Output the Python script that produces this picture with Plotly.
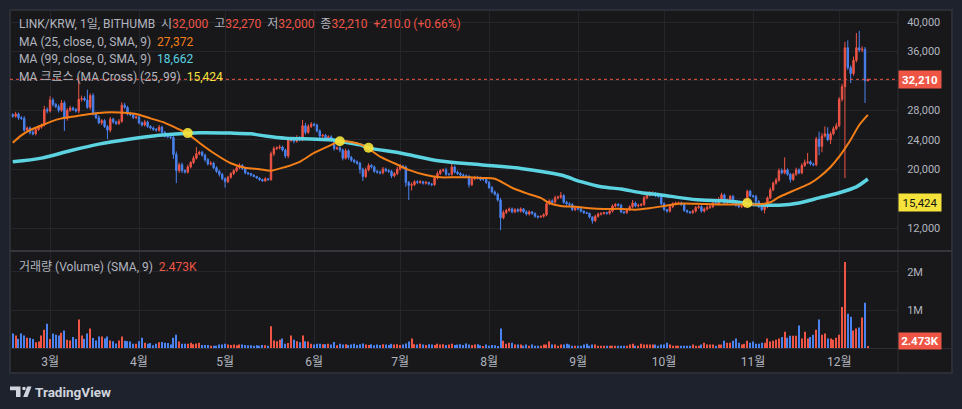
import plotly.graph_objects as go
import pandas as pd

# ---------------- data (prices in thousand KRW, volume in millions) ----------------
start_date = "2024-02-17"
first_open_k = 27.4

close_k = [
    27.2, 27.5, 27.0, 26.9, 25.3, 25.6, 25.0, 24.8, 25.4, 25.7,
    26.0, 28.1, 27.9, 29.4, 28.8, 28.5, 28.0, 29.0, 26.9, 28.0,
    28.3, 28.1, 27.9, 29.5, 29.6, 29.4, 28.4, 30.0, 27.6, 27.0,
    26.3, 26.6, 25.8, 25.3, 26.8, 26.4, 26.2, 26.5, 28.7, 28.4,
    27.5, 27.4, 27.0, 27.1, 26.3, 26.0, 26.4, 25.8, 25.6, 25.4,
    25.3, 25.7, 25.0, 24.5, 24.4, 24.3, 22.0, 19.8, 20.6, 19.8,
    19.6, 20.3, 20.9, 21.5, 22.1, 22.3, 21.9, 21.3, 20.7, 20.8,
    20.2, 19.7, 19.3, 18.7, 18.3, 18.9, 19.4, 19.8, 20.2, 20.5,
    20.1, 19.5, 19.4, 19.2, 19.0, 18.8, 18.6, 18.4, 18.7, 18.6,
    22.1, 22.8, 22.9, 23.0, 22.6, 21.8, 23.9, 24.2, 23.8, 24.3,
    24.0, 25.9, 25.0, 25.8, 26.1, 26.0, 25.2, 24.5, 24.6, 24.2,
    24.4, 23.9, 22.8, 22.9, 22.6, 21.5, 22.5, 21.6, 21.2, 21.0,
    20.8, 20.0, 19.0, 19.9, 20.5, 20.3, 19.7, 19.6, 19.5, 20.0,
    19.8, 19.7, 19.1, 19.4, 20.0, 20.4, 20.3, 18.2, 17.8, 17.9,
    18.3, 18.2, 18.3, 18.1, 18.2, 18.0, 17.9, 18.8, 19.4, 19.8,
    19.9, 19.3, 19.3, 20.3, 19.6, 19.4, 19.2, 19.1, 19.0, 17.9,
    18.7, 18.9, 18.8, 18.6, 18.6, 18.2, 17.5, 16.9, 16.6, 15.8,
    13.4, 14.1, 14.4, 14.6, 14.2, 14.5, 14.3, 14.6, 14.2, 13.9,
    14.2, 14.0, 13.6, 13.5, 13.6, 13.8, 15.3, 15.7, 15.5, 16.1,
    16.2, 16.4, 15.5, 15.3, 15.2, 14.5, 14.7, 14.6, 14.3, 14.1,
    14.0, 13.5, 13.0, 13.6, 13.9, 14.0, 14.1, 14.0, 14.3, 15.0,
    15.2, 15.1, 14.2, 14.1, 14.5, 14.9, 15.4, 15.0, 15.1, 15.2,
    16.1, 16.5, 16.6, 16.7, 16.4, 16.3, 15.3, 14.5, 14.3, 14.9,
    15.3, 15.4, 15.4, 15.2, 14.4, 14.2, 14.1, 14.3, 14.8, 14.9,
    14.3, 14.6, 14.8, 14.9, 15.4, 15.3, 15.9, 16.5, 15.4, 15.8,
    16.3, 15.4, 15.1, 14.9, 15.0, 15.8, 17.0, 16.4, 16.3, 15.6,
    14.9, 14.5, 14.9, 16.1, 17.2, 18.1, 18.5, 19.8, 19.5, 19.9,
    19.3, 18.6, 19.3, 19.9, 19.5, 20.5, 20.9, 21.0, 20.7, 20.6,
    24.1, 23.1, 24.5, 24.8, 24.0, 24.8, 25.5, 25.9, 29.5, 31.2,
    36.5, 33.8, 33.0, 34.8, 36.5, 36.2, 36.3, 32.0, 32.21,
]

upper_wick_k = [
    .2, .3, .2, .2, .3, .2, .2, .3, .2, .3,
    .2, .5, .3, .5, .3, .2, .3, .4, .3, .3,
    .3, .2, .2, 3.1, .4, .3, 1.4, .3, .3, .2,
    .3, .2, .2, .2, .3, .2, .2, .3, .4, .3,
    .2, .3, .2, .2, .2, .2, .3, .2, .2, .2,
    .2, .3, .2, .2, .2, .2, .2, .4, .3, .3,
    .2, .3, .2, .3, .9, .2, .2, .2, .2, .3,
    .2, .2, .2, .2, .2, .2, .2, .2, .2, .3,
    .2, .2, .1, .1, .1, .1, .1, .1, .2, .1,
    .3, .3, .2, .3, .2, .2, .3, .2, .2, .3,
    .2, .8, .4, .3, .3, .2, .2, .2, .2, .2,
    .2, .2, .2, .2, .2, .2, .3, .2, .2, .2,
    .2, .2, .2, .3, .3, .2, .2, .2, .2, .3,
    .2, .2, .2, .2, .3, .3, .2, .2, .2, .3,
    .2, .2, .2, .1, .2, .1, .1, .3, .3, .2,
    .2, .3, .2, .5, .2, .2, .2, .2, .2, .2,
    .2, .2, .2, .2, .2, .2, .2, .2, .2, .2,
    .3, .3, .2, .2, .2, .2, .2, .2, .1, .2,
    .2, .1, .1, .1, .1, .2, .3, .2, .2, .3,
    .2, .5, .2, .2, .2, .2, .2, .1, .1, .1,
    .1, .1, .1, .2, .2, .1, .1, .1, .2, .2,
    .2, .2, .2, .1, .2, .2, .4, .2, .2, .2,
    .3, .4, .4, .3, .2, .2, .2, .2, .1, .2,
    .2, .2, .2, .2, .2, .1, .1, .2, .2, .2,
    .2, .2, .3, .2, .3, .2, .3, .3, .2, .2,
    .2, .2, .2, .1, .2, .2, .2, .2, .1, .2,
    .2, .1, .2, .2, .3, .2, .3, .3, .3, 1.7,
    .2, .2, .2, .3, .2, .3, .4, 1.2, .2, .2,
    .3, 1.0, .4, 1.0, .9, .3, .3, .4, .3, .4,
    .8, 1.0, .3, .5, 2.0, 2.3, .4, .3, .06,
]

lower_wick_k = [
    .2, .2, .3, .2, .2, .2, .3, .2, .2, .2,
    .2, .2, .3, .2, .3, .2, .3, .2, 1.7, .3,
    .2, .2, .2, .3, .3, .2, .2, .3, .3, .2,
    .2, .3, .2, 1.2, .3, .2, .2, .2, .2, .2,
    .2, .2, .2, .2, .2, .2, .2, .2, .2, .2,
    .2, .2, .2, .2, .2, .2, .6, 1.7, .3, .3,
    .2, .2, .2, .2, .2, .2, .2, .3, .2, .2,
    .2, .2, .3, .2, .8, .2, .2, .2, .2, .2,
    .2, .2, .2, .2, .1, .1, .2, .1, .1, .2,
    .2, .3, .2, .2, .2, .3, .3, .2, .3, .2,
    .2, .2, .3, .2, .2, .2, .2, .3, .2, .3,
    .2, .2, .3, .2, .3, .3, .2, .3, .2, .2,
    .2, .6, .6, .2, .2, .2, .2, .2, .2, .2,
    .2, .2, .3, .2, .2, .2, .2, .6, 2.0, .7,
    .2, .2, .2, .2, .2, .2, .2, .2, .2, .2,
    .2, .2, .2, .2, .2, .2, .2, .2, .2, .4,
    .2, .2, .2, .2, .2, .2, .2, .2, .2, .2,
    1.7, .2, .2, .2, .2, .2, .2, .2, .2, .2,
    .2, .2, .2, .2, .1, .2, .2, .2, .2, .2,
    .2, .2, .2, .2, .2, .2, .2, .2, .2, .2,
    .1, .2, .4, .2, .2, .2, .2, .2, .2, .2,
    .2, .2, .2, .2, .2, .2, .2, .2, .2, .2,
    .2, .2, .2, .2, .2, .2, .2, .2, .2, .2,
    .2, .2, .2, .2, .2, .2, .2, .2, .2, .2,
    .2, .2, .2, .2, .2, .2, .2, .2, .2, .2,
    .2, .2, .2, .2, .2, .2, .2, .2, .2, .2,
    .2, .2, .5, .2, .2, .2, .2, .2, .2, .2,
    .2, .4, .2, .2, .2, .2, .2, .2, .2, .2,
    .2, 1.2, .8, .2, .2, .6, .2, .2, .2, .3,
    12.4, .3, 1.3, .3, .3, .3, .3, 3.0, 0,
]

volume_m = [
    .38, .33, .24, .38, .33, .27, .26, .24, .15, .17,
    .33, .48, .64, .24, .38, .35, .33, .40, .46, .22,
    .20, .29, .24, .75, .33, .24, .38, .51, .26, .20,
    .30, .30, .25, .30, .20, .18, .12, .20, .30, .19,
    .18, .17, .11, .11, .18, .27, .14, .11, .13, .07,
    .11, .15, .16, .14, .13, .09, .27, .35, .17, .11,
    .11, .11, .14, .10, .12, .14, .08, .08, .08, .06,
    .06, .06, .09, .09, .11, .09, .08, .09, .07, .09,
    .09, .08, .07, .07, .06, .07, .06, .08, .07, .06,
    .57, .20, .18, .22, .25, .11, .13, .33, .22, .18,
    .15, .33, .18, .17, .11, .09, .11, .11, .10, .10,
    .11, .09, .16, .07, .11, .09, .10, .08, .09, .11,
    .08, .10, .12, .09, .08, .10, .07, .09, .08, .10,
    .09, .08, .11, .09, .10, .08, .09, .12, .17, .25,
    .10, .09, .11, .09, .08, .10, .09, .08, .11, .09,
    .10, .08, .09, .11, .08, .09, .10, .08, .12, .09,
    .08, .09, .10, .07, .04, .09, .06, .08, .07, .04,
    .51, .19, .11, .14, .14, .09, .09, .09, .06, .09,
    .06, .09, .06, .06, .06, .09, .09, .17, .09, .09,
    .06, .09, .09, .11, .09, .06, .06, .06, .06, .09,
    .11, .06, .09, .09, .06, .06, .06, .06, .06, .06,
    .06, .06, .06, .06, .06, .09, .11, .06, .06, .11,
    .09, .09, .09, .09, .09, .06, .09, .09, .14, .09,
    .06, .06, .06, .06, .06, .06, .06, .09, .06, .06,
    .09, .14, .09, .09, .09, .06, .09, .09, .19, .14,
    .14, .19, .25, .14, .09, .11, .19, .14, .17, .11,
    .11, .14, .14, .25, .17, .19, .22, .25, .29, .43,
    .27, .32, .32, .32, .59, .25, .43, .25, .29, .35,
    .48, .75, .35, .38, .25, .25, .22, .27, .35, 1.08,
    2.26, .90, .82, .46, .51, .54, .80, 1.19, .03,
]

# moving averages (day index, value in thousand KRW)
ma25_day = [0, 3, 6, 11, 16, 22, 27, 32, 37, 43, 48, 53, 58, 61, 65, 70, 76, 81, 86, 90,
            95, 100, 105, 111, 114, 118, 121, 124, 128, 133, 138, 144, 149, 154, 159, 164,
            168, 172, 175, 180, 184, 187, 191, 196, 201, 206, 212, 217, 222, 227, 232, 238,
            246, 256, 260, 264, 267, 271, 274, 278, 281, 285, 288, 292, 295, 298]
ma25_val = [23.6, 24.6, 25.3, 26.1, 26.8, 27.2, 27.5, 27.7, 27.7, 27.5, 26.9, 26.3, 25.4, 24.8,
            23.6, 22.2, 20.8, 20.2, 20.0, 19.8, 20.3, 21.0, 22.2, 23.3, 23.8, 23.7, 23.4, 22.8,
            21.7, 20.8, 19.9, 19.2, 18.9, 18.9, 18.9, 18.8, 18.7, 17.9, 17.3, 16.6, 16.1, 15.4,
            15.0, 14.9, 14.7, 14.6, 14.6, 14.5, 14.7, 15.0, 15.3, 15.3, 15.2, 15.2, 15.2, 15.5,
            16.2, 16.9, 17.4, 18.1, 18.9, 20.3, 21.7, 24.0, 26.0, 27.372]

ma99_day = [0, 10, 20, 30, 41, 51, 60, 65, 76, 83, 88, 95, 104, 111, 114, 121, 124, 135,
            149, 163, 177, 191, 198, 205, 212, 219, 226, 233, 240, 247, 253, 256, 260, 267,
            274, 281, 288, 294, 298]
ma99_val = [21.0, 21.5, 22.5, 23.4, 24.1, 24.6, 24.85, 24.95, 24.9, 24.8, 24.5, 24.2, 24.1,
            24.0, 23.8, 23.3, 22.9, 22.2, 21.1, 20.6, 20.1, 19.2, 18.3, 17.6, 17.3, 16.8, 16.5,
            16.1, 15.8, 15.7, 15.5, 15.3, 15.15, 15.1, 15.4, 16.1, 16.8, 17.6, 18.662]

cross_day = [61, 114, 124, 256]
cross_val = [24.9, 23.8, 22.9, 15.4]

price_ticks = [12000, 16000, 20000, 24000, 28000, 32000, 36000, 40000]
price_tick_text = ["12,000", "16,000", "20,000", "24,000", "28,000", "", "36,000", "40,000"]
volume_ticks = [1, 2]
volume_tick_text = ["1M", "2M"]
month_starts = ["2024-03-01", "2024-04-01", "2024-05-01", "2024-06-01", "2024-07-01",
                "2024-08-01", "2024-09-01", "2024-10-01", "2024-11-01", "2024-12-01"]
month_labels = ["3월", "4월", "5월", "6월", "7월", "8월", "9월", "10월", "11월", "12월"]

# ---------------- build ----------------
W, H = 962, 409
def px(x):
    return x / W
def py(y):
    return 1 - y / H

RED = "#ef5545"
BLUE = "#4a83f0"
ORANGE = "#f57f17"
CYAN = "#5cd3e0"
YELLOW = "#f5e33b"
TXT = "#b2b5be"
GRID = "#25262b"
BORDER = "#2c2e35"
PANEL = "#18181b"
OUTER = "#1e222d"
FONT = "Roboto, Noto Sans CJK KR, sans-serif"

dates = pd.date_range(start_date, periods=len(close_k), freq="D")
close = [c * 1000 for c in close_k]
opens = [first_open_k * 1000] + close[:-1]
high = [max(o, c) + u * 1000 for o, c, u in zip(opens, close, upper_wick_k)]
low = [min(o, c) - l * 1000 for o, c, l in zip(opens, close, lower_wick_k)]
vol_colors = [RED if c >= o else BLUE for o, c in zip(opens, close)]

fig = go.Figure()

fig.add_trace(go.Bar(
    x=dates, y=volume_m, marker=dict(color=vol_colors, line=dict(width=0)),
    width=0.38 * 86400000, xaxis="x2", yaxis="y2", hoverinfo="skip", showlegend=False))

fig.add_trace(go.Scatter(
    x=[dates[i] for i in ma99_day], y=[v * 1000 for v in ma99_val], mode="lines",
    line=dict(color=CYAN, width=3.5, shape="spline", smoothing=0.8),
    xaxis="x", yaxis="y", hoverinfo="skip", showlegend=False))

fig.add_trace(go.Scatter(
    x=[dates[i] for i in ma25_day], y=[v * 1000 for v in ma25_val], mode="lines",
    line=dict(color=ORANGE, width=2, shape="spline", smoothing=0.8),
    xaxis="x", yaxis="y", hoverinfo="skip", showlegend=False))

fig.add_trace(go.Candlestick(
    x=dates, open=opens, high=high, low=low, close=close,
    increasing=dict(line=dict(color=RED, width=1), fillcolor=RED),
    decreasing=dict(line=dict(color=BLUE, width=1), fillcolor=BLUE),
    whiskerwidth=0, xaxis="x", yaxis="y", hoverinfo="skip", showlegend=False))

fig.add_trace(go.Scatter(
    x=[dates[i] for i in cross_day], y=[v * 1000 for v in cross_val], mode="markers",
    marker=dict(color=YELLOW, size=10, opacity=0.9), xaxis="x", yaxis="y",
    hoverinfo="skip", showlegend=False))

x_range = ["2024-02-16 01:00", "2024-12-21 12:00"]
tickfont = dict(family=FONT, size=11, color=TXT)
monthfont = dict(family=FONT, size=12, color=TXT)

fig.update_layout(
    width=W, height=H, margin=dict(l=0, r=0, t=0, b=0),
    paper_bgcolor=OUTER, plot_bgcolor=PANEL, showlegend=False, hovermode=False,
    xaxis=dict(domain=[px(10), px(898)], anchor="y", type="date", range=x_range,
               tickvals=month_starts, showticklabels=False, showgrid=True, gridcolor=GRID,
               gridwidth=1, zeroline=False, showline=False, rangeslider=dict(visible=False)),
    yaxis=dict(domain=[py(250), py(11)], anchor="x", side="right", range=[9015, 41495],
               tickvals=price_ticks, ticktext=price_tick_text,
               tickfont=tickfont, showgrid=True, gridcolor=GRID, zeroline=False,
               showline=False, ticks="outside", ticklen=6, tickcolor="rgba(0,0,0,0)"),
    xaxis2=dict(domain=[px(10), px(898)], anchor="y2", type="date", range=x_range,
                matches="x", tickvals=month_starts, ticktext=month_labels, tickfont=monthfont,
                showgrid=True, gridcolor=GRID, zeroline=False, showline=False,
                ticks="outside", ticklen=3, tickcolor="rgba(0,0,0,0)"),
    yaxis2=dict(domain=[py(348), py(252)], anchor="x2", side="right", range=[0, 2.526],
                tickvals=volume_ticks, ticktext=volume_tick_text, tickfont=tickfont,
                showgrid=True, gridcolor=GRID, zeroline=False, showline=False,
                ticks="outside", ticklen=6, tickcolor="rgba(0,0,0,0)"),
)

shapes = [
    dict(type="rect", xref="paper", yref="paper", x0=px(10), x1=px(952), y0=py(373), y1=py(10),
         fillcolor=PANEL, line=dict(color=BORDER, width=2), layer="below"),
    dict(type="line", xref="paper", yref="paper", x0=px(898), x1=px(898), y0=py(373), y1=py(10),
         line=dict(color=BORDER, width=1)),
    dict(type="line", xref="paper", yref="paper", x0=px(10), x1=px(952), y0=py(251), y1=py(251),
         line=dict(color="#34363c", width=2)),
    dict(type="line", xref="paper", yref="paper", x0=px(10), x1=px(952), y0=py(348.5), y1=py(348.5),
         line=dict(color=BORDER, width=1)),
    dict(type="line", xref="paper", yref="y", x0=px(10), x1=px(898), y0=close[-1], y1=close[-1],
         line=dict(color=RED, width=1, dash="dot")),
]
# TradingView logo
def path(pts):
    return "M " + " L ".join(f"{px(a):.5f},{py(b):.5f}" for a, b in pts) + " Z"
LOGO = "#d1d4dc"
shapes.append(dict(type="path", xref="paper", yref="paper", fillcolor=LOGO, line=dict(width=0),
                   path=path([(10, 386.5), (20.5, 386.5), (20.5, 397), (16, 397), (16, 390.3), (10, 390.3)])))
shapes.append(dict(type="circle", xref="paper", yref="paper", fillcolor=LOGO, line=dict(width=0),
                   x0=px(22.2), x1=px(25.8), y0=py(390.3), y1=py(386.7)))
shapes.append(dict(type="path", xref="paper", yref="paper", fillcolor=LOGO, line=dict(width=0),
                   path=path([(27.2, 386.5), (31.5, 386.5), (27.5, 397), (23.2, 397)])))
fig.update_layout(shapes=shapes)

def sp(t, c):
    return f"<span style='color:{c}'>{t}</span>"

G = "&nbsp;&nbsp;"
o, h, l, c = opens[-1], high[-1], low[-1], close[-1]
chg = c - o
line1 = ("LINK/KRW, 1일, BITHUMB" + G + "시" + sp(f"{o:,.0f}", RED) + G + "고" + sp(f"{h:,.0f}", RED)
         + G + "저" + sp(f"{l:,.0f}", RED) + G + "종" + sp(f"{c:,.0f}", RED) + G
         + sp(f"+{chg:.1f} (+{chg / o * 100:.2f}%)", RED))
line2 = "MA (25, close, 0, SMA, 9)" + G + sp(f"{ma25_val[-1] * 1000:,.0f}", ORANGE)
line3 = "MA (99, close, 0, SMA, 9)" + G + sp(f"{ma99_val[-1] * 1000:,.0f}", CYAN)
line4 = "MA 크로스 (MA Cross) (25, 99)" + G + sp("15,424", YELLOW)
line5 = "거래량 (Volume) (SMA, 9)" + G + sp("2.473K", RED)

ann = []
for txt, y in [(line1, 23.5), (line2, 41.5), (line3, 59.5), (line4, 76.5), (line5, 266.5)]:
    ann.append(dict(text=txt, xref="paper", yref="paper", x=px(17), y=py(y), xanchor="left",
                    yanchor="middle", showarrow=False, font=dict(family=FONT, size=12, color=TXT)))
ann.append(dict(text=f"<b>{c:,.0f}</b>", xref="paper", yref="y", x=px(898), y=c, xanchor="left",
                yanchor="middle", showarrow=False, bgcolor=RED, width=40, height=15, borderpad=1,
                font=dict(family=FONT, size=11.5, color="#ffffff")))
ann.append(dict(text="15,424", xref="paper", yref="y", x=px(898), y=15424, xanchor="left",
                yanchor="middle", showarrow=False, bgcolor=YELLOW, width=40, height=15, borderpad=1,
                font=dict(family=FONT, size=11.5, color="#131313")))
ann.append(dict(text="<b>2.473K</b>", xref="paper", yref="paper", x=px(898), y=py(341), xanchor="left",
                yanchor="middle", showarrow=False, bgcolor=RED, width=40, height=14, borderpad=1,
                font=dict(family=FONT, size=11.5, color="#ffffff")))
ann.append(dict(text="<b>TradingView</b>", xref="paper", yref="paper", x=px(33), y=py(391.5),
                xanchor="left", yanchor="middle", showarrow=False,
                font=dict(family=FONT, size=13.5, color=LOGO)))
fig.update_layout(annotations=ann)

fig.write_html("out.html")
